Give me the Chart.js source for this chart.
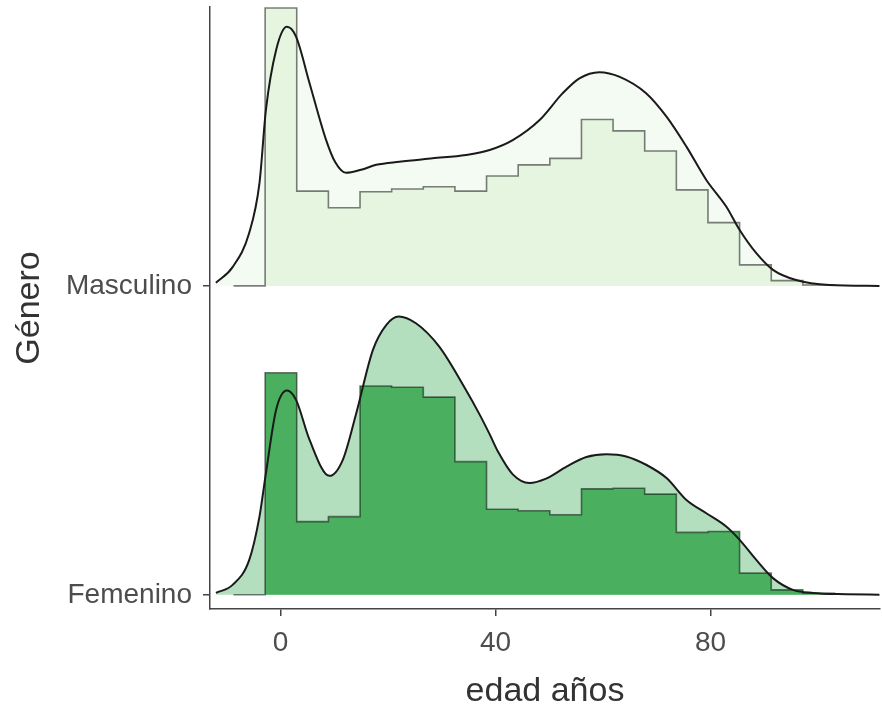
<!DOCTYPE html>
<html><head><meta charset="utf-8">
<script src="https://cdn.jsdelivr.net/npm/chart.js@4.4.1/dist/chart.umd.min.js"></script>
<style>html,body{margin:0;padding:0;background:#fff}canvas{display:block}</style>
</head><body>
<canvas id="c" width="882" height="713"></canvas>
<script>
const groups = ["Femenino", "Masculino"];
const xTicks = [0, 40, 80];
const binEdges = [-8.73, -2.85, 3.03, 8.92, 14.80, 20.68, 26.57, 32.45, 38.33, 44.21, 50.10, 55.98, 61.86, 67.74, 73.63, 79.51, 85.39, 91.28, 97.16, 103.04];
const mascHist = [0.90, 0.307, 0.253, 0.305, 0.314, 0.321, 0.307, 0.356, 0.392, 0.413, 0.539, 0.502, 0.437, 0.311, 0.205, 0.068, 0.017, 0.003];
const femHist  = [0.719, 0.237, 0.253, 0.676, 0.672, 0.640, 0.431, 0.277, 0.272, 0.259, 0.343, 0.345, 0.326, 0.202, 0.205, 0.070, 0.016, 0.005];
const mascDensAge = [-12, -8.9, -5.8, -3.9, -2.7, -0.8, 1.2, 2.9, 5.4, 8.5, 10.2, 12.2, 15.0, 17.8, 22.1, 28.3, 34.5, 38.9, 43.2, 48.2, 52.5, 55.6, 59.3, 63.1, 68.0, 71.8, 75.5, 79.2, 82.9, 85.4, 88.5, 91.6, 95.9, 102.1, 111.4];
const mascDens    = [0.010, 0.061, 0.172, 0.333, 0.570, 0.764, 0.839, 0.807, 0.657, 0.472, 0.400, 0.366, 0.376, 0.392, 0.402, 0.413, 0.424, 0.440, 0.472, 0.537, 0.624, 0.672, 0.692, 0.677, 0.624, 0.548, 0.451, 0.343, 0.257, 0.181, 0.106, 0.052, 0.019, 0.003, 0.000];
const femDensAge = [-12, -8.9, -5.8, -3.9, -2.7, -0.8, 1.2, 2.9, 5.4, 9.1, 11.6, 14.1, 17.2, 19.7, 22.0, 25.2, 29.5, 34.5, 37.0, 38.9, 40.5, 43.2, 46.3, 49.4, 53.2, 56.9, 60.6, 64.3, 68.0, 71.8, 75.5, 79.2, 82.9, 85.4, 88.5, 91.6, 95.3, 99.1, 105.3, 111.4];
const femDens    = [0.006, 0.032, 0.113, 0.253, 0.394, 0.599, 0.661, 0.631, 0.502, 0.385, 0.437, 0.588, 0.793, 0.874, 0.901, 0.879, 0.804, 0.663, 0.585, 0.520, 0.462, 0.390, 0.362, 0.376, 0.415, 0.446, 0.455, 0.448, 0.421, 0.378, 0.307, 0.264, 0.221, 0.178, 0.113, 0.054, 0.016, 0.006, 0.002, 0.000];

function histPoints(h, base) {
  const pts = [{x: binEdges[0], y: base}];
  for (let i = 0; i < h.length; i++) pts.push({x: binEdges[i + 1], y: base + h[i]});
  pts.push({x: binEdges[h.length + 1], y: base});
  return pts;
}
function densPoints(ages, vals, base) {
  return ages.map((a, i) => ({x: a, y: base + vals[i]}));
}
const style = {
  Masculino: {densFill: '#f4fbf2', histFill: '#e5f5e0'},
  Femenino:  {densFill: '#b4dfbf', histFill: '#4aaf5f'}
};
const datasets = [];
[["Masculino", mascHist, mascDensAge, mascDens, 1], ["Femenino", femHist, femDensAge, femDens, 0]].forEach(([g, h, da, dv, base]) => {
  datasets.push({data: densPoints(da, dv, base), borderColor: '#1a1a1a', borderWidth: 2, fill: false, pointRadius: 0, cubicInterpolationMode: 'monotone', order: 0});
  datasets.push({data: histPoints(h, base), stepped: 'before', borderColor: 'rgba(0,0,0,0.5)', borderWidth: 1.6, backgroundColor: style[g].histFill, fill: {value: base}, pointRadius: 0, order: 1});
  datasets.push({data: densPoints(da, dv, base), borderWidth: 0, borderColor: 'rgba(0,0,0,0)', backgroundColor: style[g].densFill, fill: {value: base}, pointRadius: 0, cubicInterpolationMode: 'monotone', order: 2});
});

new Chart(document.getElementById('c'), {
  type: 'line',
  data: {datasets},
  options: {
    responsive: false, animation: false, devicePixelRatio: 1,
    layout: {padding: {top: 7, right: 2, left: 0, bottom: 0}},
    plugins: {legend: {display: false}, tooltip: {enabled: false}},
    scales: {
      x: {
        type: 'linear', min: -13.1, max: 111.5,
        afterBuildTicks: s => { s.ticks = xTicks.map(v => ({value: v})); },
        afterFit: s => { s.height = 104; s.paddingLeft = 0; s.paddingRight = 0; },
        grid: {drawOnChartArea: false, drawTicks: true, tickLength: 7, color: '#444', lineWidth: 1.5},
        border: {display: true, color: '#444', width: 1.5},
        ticks: {color: '#4d4d4d', font: {family: 'Liberation Sans', size: 28}, padding: 10, maxRotation: 0},
        title: {display: true, text: 'edad años', color: '#333', font: {family: 'Liberation Sans', size: 34}, padding: {top: 0, bottom: 1}}
      },
      y: {
        type: 'linear', min: -0.046, max: 1.903,
        afterBuildTicks: s => { s.ticks = [{value: 0}, {value: 1}]; },
        afterFit: s => { s.width = 210; s.paddingTop = 0; s.paddingBottom = 0; },
        grid: {drawOnChartArea: false, drawTicks: true, tickLength: 7, color: '#444', lineWidth: 1.5},
        border: {display: true, color: '#444', width: 1.5},
        ticks: {color: '#4d4d4d', font: {family: 'Liberation Sans', size: 28}, padding: 11, callback: v => groups[v]},
        title: {display: true, text: 'Género', color: '#333', font: {family: 'Liberation Sans', size: 34}, padding: {top: 9, bottom: 0}}
      }
    }
  }
});
</script>
</body></html>
